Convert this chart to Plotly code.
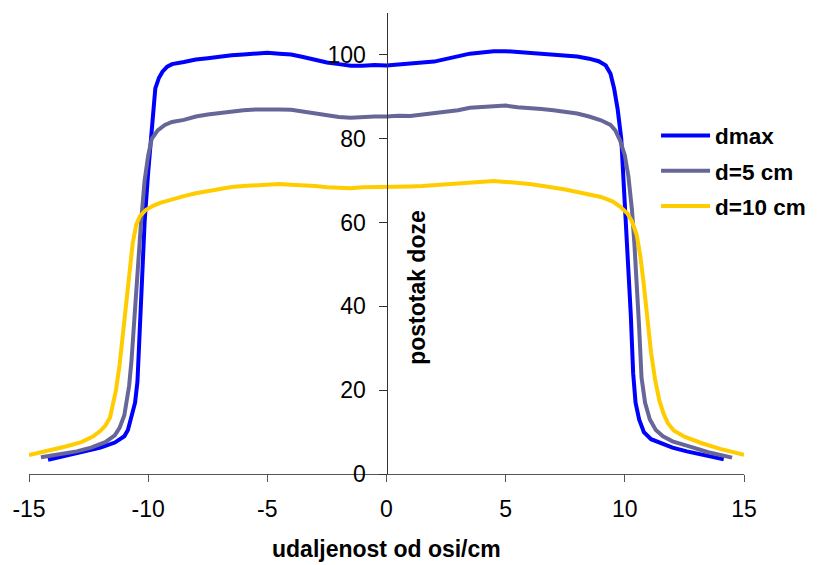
import plotly.graph_objects as go

# Distance from axis (cm) and percentage dose
dmax_x = [-14.2, -13.5, -12.8, -12.0, -11.4, -11.0, -10.85, -10.7, -10.55, -10.45, -10.35, -10.28,
          -10.15, -10.0, -9.88, -9.8, -9.7, -9.55, -9.4, -9.2, -9.0, -8.5, -8.0, -7.5, -7.0, -6.5,
          -6.0, -5.5, -5.0, -4.5, -4.0, -3.5, -3.0, -2.5, -2.0, -1.5, -1.0, -0.5, 0.0, 0.5, 1.0,
          1.5, 2.0, 2.5, 3.0, 3.5, 4.0, 4.5, 5.0, 5.5, 6.0, 6.5, 7.0, 7.5, 8.0, 8.5, 8.9, 9.2,
          9.4, 9.55, 9.7, 9.85, 9.95, 10.05, 10.15, 10.25, 10.35, 10.45, 10.6, 10.8, 11.1, 11.6,
          12.0, 12.6, 13.4, 14.15]
dmax_y = [3.4, 4.3, 5.2, 6.3, 7.5, 9.0, 10.5, 14, 17, 22, 35, 46,
          60, 72, 80, 87, 92, 94.5, 96, 97.2, 97.8, 98.3, 98.9, 99.2, 99.6, 99.9,
          100.1, 100.3, 100.5, 100.3, 100.1, 99.5, 98.8, 98.2, 97.8, 97.4, 97.4, 97.6, 97.5, 97.8, 98.0,
          98.2, 98.4, 99.0, 99.7, 100.3, 100.6, 100.9, 100.9, 100.7, 100.6, 100.3, 100.1, 99.8, 99.6, 99.1, 98.5, 97.5,
          95.5, 92, 87, 80, 70, 60, 48, 38, 24, 17, 13, 10, 8.3, 7.3,
          6.3, 5.4, 4.4, 3.5]

d5_x = [-14.5, -13.8, -13.0, -12.4, -11.8, -11.4, -11.2, -11.0, -10.9, -10.8, -10.7, -10.6,
        -10.45, -10.3, -10.15, -10.0, -9.85, -9.6, -9.3, -9.0, -8.5, -8.0, -7.5, -7.0, -6.5,
        -6.0, -5.5, -5.0, -4.5, -4.0, -3.5, -3.0, -2.5, -2.0, -1.5, -1.0, -0.5, 0.0, 0.5, 1.0,
        1.5, 2.0, 2.5, 3.0, 3.5, 4.0, 4.5, 5.0, 5.5, 6.0, 6.5, 7.0, 7.5, 8.0, 8.5, 9.0, 9.4,
        9.6, 9.8, 10.0, 10.15, 10.3, 10.4, 10.5, 10.6, 10.7, 10.85, 11.05, 11.3, 11.6, 12.0,
        12.7, 13.5, 14.5]
d5_y = [4.0, 4.7, 5.4, 6.3, 7.6, 9.2, 11, 14, 17, 21, 27, 36,
        46, 60, 70, 76, 80, 82, 83.3, 84, 84.5, 85.3, 85.8, 86.2, 86.5,
        86.8, 87, 87.1, 87.0, 86.9, 86.5, 86, 85.5, 85.2, 85, 85.2, 85.3, 85.3, 85.5, 85.4,
        85.7, 86, 86.4, 86.8, 87.4, 87.6, 87.8, 87.9, 87.5, 87.4, 87.1, 86.8, 86.4, 86.0, 85.3, 84.4, 83.3,
        82, 79.6, 76, 71, 63, 55, 46, 35, 23, 17, 13, 10.5, 9, 7.8,
        6.6, 5.2, 3.9]

d10_x = [-15.0, -14.3, -13.5, -12.8, -12.3, -12.0, -11.8, -11.6, -11.45, -11.35, -11.2, -11.1,
         -10.95, -10.8, -10.65, -10.5, -10.35, -10.1, -9.8, -9.5, -9.0, -8.5, -8.0, -7.5, -7.0,
         -6.5, -6.0, -5.5, -5.0, -4.5, -4.0, -3.5, -3.0, -2.5, -2.0, -1.5, -1.0, -0.5, 0.0, 0.5,
         1.0, 1.5, 2.0, 2.5, 3.0, 3.5, 4.0, 4.5, 5.0, 5.5, 6.0, 6.5, 7.0, 7.5, 8.0, 8.5, 9.0,
         9.5, 9.8, 10.1, 10.3, 10.5, 10.65, 10.78, 10.95, 11.1, 11.27, 11.45, 11.62, 11.8, 12.05,
         12.5, 13.2, 14.0, 15.0]
d10_y = [4.5, 5.4, 6.5, 7.6, 9, 10.3, 11.5, 13.5, 17, 20, 26, 31,
         39, 46, 55, 59.5, 61.5, 63, 64, 64.7, 65.6, 66.3, 67, 67.5, 68,
         68.5, 68.7, 68.9, 69.2, 69.2, 69.0, 68.9, 68.7, 68.4, 68.3, 68.2, 68.4, 68.4, 68.5, 68.5,
         68.6, 68.7, 68.9, 69.2, 69.5, 69.7, 69.8, 69.9, 69.7, 69.5, 69.2, 68.8, 68.4, 67.9, 67.3, 66.8, 66.1,
         65.0, 63.8, 62.2, 60.3, 57, 52, 46, 36, 29, 22.5, 17.5, 14.5, 12.2, 10.4,
         8.9, 7.4, 6.0, 4.6]

series_names = ["dmax", "d=5 cm", "d=10 cm"]
series_colors = ["#0000FF", "#666699", "#FFCC00"]

x_ticks = [-15, -10, -5, 0, 5, 10, 15]
y_ticks = [0, 20, 40, 60, 80, 100]

FONT = "Liberation Sans, Arial, sans-serif"

fig = go.Figure()
for name, xs, ys, col in zip(series_names, [dmax_x, d5_x, d10_x], [dmax_y, d5_y, d10_y], series_colors):
    fig.add_trace(go.Scatter(x=xs, y=ys, mode="lines", name=name, legendgroup=name,
                             line=dict(color=col, width=4)))

# page body has an 8px margin, so the figure is 8px smaller and top/left margins shifted
fig.update_layout(
    width=811, height=557,
    margin=dict(l=21, r=75, t=5, b=91, autoexpand=False),
    paper_bgcolor="white", plot_bgcolor="white",
    font=dict(family=FONT, size=23, color="black"),
    showlegend=True,
    legend=dict(x=0.877, y=0.78, xanchor="left", yanchor="top",
                bgcolor="rgba(0,0,0,0)", itemwidth=49, tracegroupgap=3,
                font=dict(family=FONT, size=22.5, weight="bold", color="black")),
    xaxis=dict(range=[-15, 15], tickvals=x_ticks, ticktext=[str(v) for v in x_ticks],
               showgrid=False, zeroline=False, showline=True, linecolor="#555", linewidth=1,
               ticks="outside", ticklen=7, tickcolor="#555", ticklabelstandoff=7,
               tickfont=dict(size=23)),
    yaxis=dict(range=[0, 110], tickvals=y_ticks, ticktext=[str(v) for v in y_ticks],
               anchor="free", position=0.5,
               showgrid=False, zeroline=False, showline=True, linecolor="#333", linewidth=1,
               ticks="outside", ticklen=8, tickcolor="#333", ticklabelstandoff=8,
               tickfont=dict(size=23)),
    annotations=[
        dict(text="udaljenost od osi/cm", x=0, xref="x", y=-0.162, yref="paper",
             xanchor="center", yanchor="middle", showarrow=False,
             font=dict(family=FONT, size=23, weight="bold")),
        dict(text="postotak doze", x=1.27, xref="x", y=44.6, yref="y", textangle=-90,
             xanchor="center", yanchor="middle", showarrow=False,
             font=dict(family=FONT, size=23, weight="bold")),
    ],
)

fig.write_html("out.html")
